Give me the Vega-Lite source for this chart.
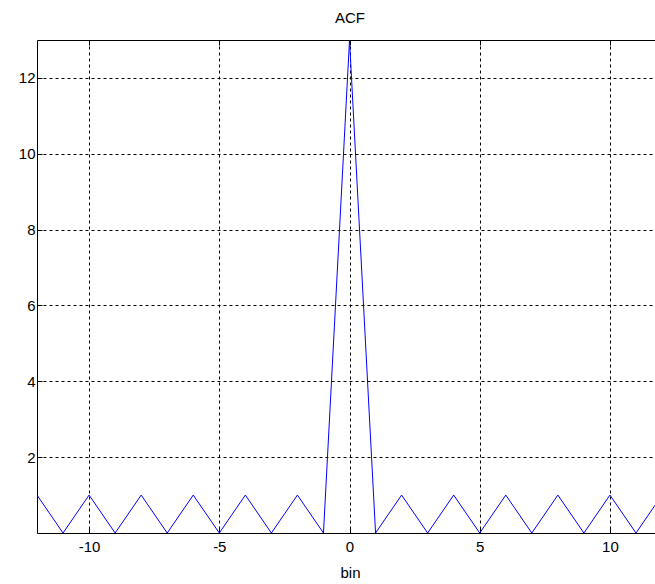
{
  "$schema": "https://vega.github.io/schema/vega-lite/v6.json",
  "autosize": "none",
  "width": 618,
  "height": 493,
  "padding": {"left": 37, "top": 40, "right": 0, "bottom": 51},
  "background": "white",
  "config": {
    "view": {"stroke": null},
    "font": "Liberation Sans",
    "axis": {
      "labelFont": "Liberation Sans",
      "labelFontSize": 15,
      "labelColor": "black",
      "labelExpr": "datum.value + ''",
      "titleFont": "Liberation Sans",
      "titleFontSize": 15,
      "titleFontWeight": "normal",
      "titleColor": "black",
      "domainColor": "black",
      "domainWidth": 1,
      "tickColor": "black",
      "tickSize": -5,
      "gridColor": "black",
      "gridOpacity": 1,
      "gridDash": [3, 3],
      "gridWidth": 1
    }
  },
  "title": {
    "text": "ACF",
    "font": "Liberation Sans",
    "fontSize": 15,
    "fontWeight": "normal",
    "color": "black",
    "anchor": "middle",
    "dx": 4,
    "offset": 14
  },
  "data": {
    "values": [
      {"bin": -12, "acf": 1}, {"bin": -11, "acf": 0}, {"bin": -10, "acf": 1},
      {"bin": -9, "acf": 0}, {"bin": -8, "acf": 1}, {"bin": -7, "acf": 0},
      {"bin": -6, "acf": 1}, {"bin": -5, "acf": 0}, {"bin": -4, "acf": 1},
      {"bin": -3, "acf": 0}, {"bin": -2, "acf": 1}, {"bin": -1, "acf": 0},
      {"bin": 0, "acf": 13},
      {"bin": 1, "acf": 0}, {"bin": 2, "acf": 1}, {"bin": 3, "acf": 0},
      {"bin": 4, "acf": 1}, {"bin": 5, "acf": 0}, {"bin": 6, "acf": 1},
      {"bin": 7, "acf": 0}, {"bin": 8, "acf": 1}, {"bin": 9, "acf": 0},
      {"bin": 10, "acf": 1}, {"bin": 11, "acf": 0}, {"bin": 12, "acf": 1}
    ]
  },
  "layer": [
    {
      "mark": {"type": "line", "color": "#0000ff", "strokeWidth": 1, "clip": true},
      "encoding": {
        "x": {
          "field": "bin",
          "type": "quantitative",
          "scale": {"domain": [-12, 11.73], "nice": false, "zero": false},
          "axis": {
            "orient": "bottom",
            "values": [-10, -5, 0, 5, 10],
            "title": "bin",
            "titlePadding": 11,
            "titleX": 313,
            "labelPadding": 11,
            "grid": true
          }
        },
        "y": {
          "field": "acf",
          "type": "quantitative",
          "scale": {"domain": [0, 13], "nice": false},
          "axis": {
            "values": [2, 4, 6, 8, 10, 12],
            "title": null,
            "labelPadding": 7,
            "grid": true
          }
        }
      }
    },
    {
      "mark": {"type": "rule", "color": "black", "strokeWidth": 1, "opacity": 0},
      "encoding": {
        "y": {"datum": 13, "type": "quantitative"},
        "x": {
          "datum": -12,
          "type": "quantitative",
          "axis": {
            "orient": "top",
            "values": [-10, -5, 0, 5, 10],
            "labels": false,
            "title": null,
            "grid": false,
            "domain": true
          }
        },
        "x2": {"datum": 11.73}
      }
    }
  ],
  "resolve": {"axis": {"x": "independent"}}
}
